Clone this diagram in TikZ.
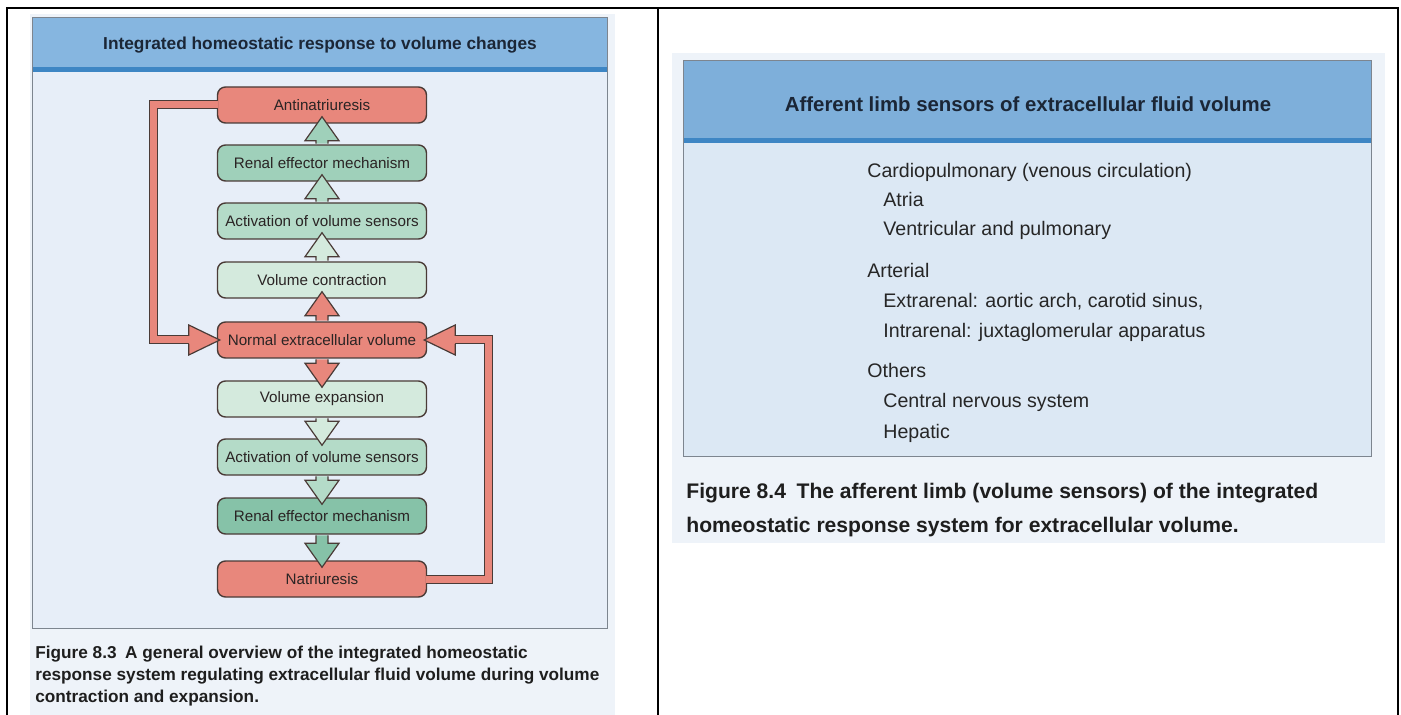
\documentclass[tikz,border=0pt]{standalone}
\usepackage{fontspec}
\setmainfont{Liberation Sans}
\usetikzlibrary{calc}
\definecolor{redf}{HTML}{E8877C}
\definecolor{grnA}{HTML}{D4EADD}
\definecolor{grnB}{HTML}{B4DBC8}
\definecolor{grnC}{HTML}{9FD0BA}
\definecolor{grnD}{HTML}{86C2A8}
\definecolor{boxline}{HTML}{4A3B37}
\definecolor{boxtext}{HTML}{2A2424}
\definecolor{navy}{HTML}{1B2636}
\definecolor{captxt}{HTML}{1E1E1E}
\definecolor{listtxt}{HTML}{262626}
\definecolor{scanbg}{HTML}{EEF3F9}
\definecolor{panelL}{HTML}{E7EEF8}
\definecolor{panelR}{HTML}{DCE8F4}
\definecolor{hdrL}{HTML}{86B6E0}
\definecolor{hdrR}{HTML}{7EAFDA}
\definecolor{hdrline}{HTML}{3E86C4}
\definecolor{frame}{HTML}{7D858F}
\tikzset{
  flowbox/.style={rectangle,rounded corners=4pt,draw=boxline,line width=0.7pt,minimum width=104.5pt,minimum height=18pt,inner sep=0pt,text=boxtext,font=\fontsize{7.6pt}{9pt}\selectfont},
  band/.style={draw=boxline,double=redf,double distance=3.5pt,line width=0.5pt},
  blk/.style={draw=boxline,line width=0.6pt,line join=miter},
  hdtext/.style={inner sep=0pt,anchor=base,text=navy},
  capt/.style={inner sep=0pt,anchor=base west,text=captxt},
  listtext/.style={inner sep=0pt,anchor=base west,text=listtxt,font=\fontsize{9.8pt}{11pt}\selectfont}
}
\begin{document}
\begin{tikzpicture}[x=0.5pt,y=-0.5pt]
  \useasboundingbox (0,0) rectangle (1401,715);
  % scanned pages
  \fill[scanbg] (30,14) rectangle (615,715);
  \fill[scanbg] (672,53) rectangle (1385,543);
  \fill[panelL] (32,18) rectangle (607,628);
  \fill[hdrL] (32,18) rectangle (607,69);
  \fill[hdrline] (32,67) rectangle (607,72);
  \draw[frame,line width=0.5pt] (32,18) rectangle (607,628);
  \fill[panelR] (683,61) rectangle (1371,457);
  \fill[hdrR] (683,61) rectangle (1371,139);
  \fill[hdrline] (683,138) rectangle (1371,143);
  \draw[frame,line width=0.5pt] (683,61) rectangle (1371,457);

  \node[hdtext,font=\fontsize{8.65pt}{10pt}\selectfont\bfseries] (lhead) at (320,50) {Integrated homeostatic response to volume changes};
  \node[hdtext,font=\fontsize{10.2pt}{12pt}\selectfont\bfseries] (rhead) at (1028,112) {Afferent limb sensors of extracellular fluid volume};

  \foreach \y/\name/\txt/\col in {105/anti/Antinatriuresis/redf, 163/rena/Renal effector mechanism/grnC,
        221/acta/Activation of volume sensors/grnB, 280/vcon/Volume contraction/grnA,
        340/nec/Normal extracellular volume/redf, 399/vexp/Volume expansion/grnA,
        457/actb/Activation of volume sensors/grnB, 516/renb/Renal effector mechanism/grnD,
        579/nat/Natriuresis/redf}
        \node[flowbox,fill=\col] (\name) at (322,\y) {\txt};

  % feedback loops
  \draw[band] ($(anti.west)+(1,0)$) -- ++(-64.5,0) |- ($(nec.west)+(-28,0)$);
  \draw[band] ($(nat.east)+(-1,0)$) -- ++(62.5,0) |- ($(nec.east)+(28,0)$);
  \filldraw[blk,fill=redf] ($(nec.west)+(-28,-4)$) -- ++(0,-11) -- ($(nec.west)+(3,0)$) -- ($(nec.west)+(-28,15)$) -- ++(0,-11);
  \filldraw[blk,fill=redf] ($(nec.east)+(28,-4)$) -- ++(0,-11) -- ($(nec.east)+(-3,0)$) -- ($(nec.east)+(28,15)$) -- ++(0,-11);

  \foreach \s/\t/\col/\d in {nec.north/vcon.south/redf/-1, vcon.north/acta.south/grnA/-1,
        acta.north/rena.south/grnB/-1, rena.north/anti.south/grnC/-1,
        nec.south/vexp.north/redf/1, vexp.south/actb.north/grnA/1,
        actb.south/renb.north/grnB/1, renb.south/nat.north/grnD/1}
    \filldraw[blk,fill=\col] ($(\s)+(-6,0.75*\d)$) -- ($(\t)+(-6,-17*\d)$) -- ($(\t)+(-17,-17*\d)$)
        -- ($(\t)+(0,7*\d)$) -- ($(\t)+(17,-17*\d)$) -- ($(\t)+(6,-17*\d)$) -- ($(\s)+(6,0.75*\d)$);

  \foreach \x/\y/\txt [count=\i] in {867/178/{Cardiopulmonary (venous circulation)}, 883/207/Atria,
        883/236/Ventricular and pulmonary, 867/278/Arterial,
        883/308/{Extrarenal: aortic arch, carotid sinus,}, 883/338/Intrarenal: juxtaglomerular apparatus,
        867/378/Others, 883/408/Central nervous system, 883/438/Hepatic}
        \node[listtext] (item\i) at (\x,\y) {\txt};

  \node[capt,font=\fontsize{8.6pt}{10pt}\selectfont\bfseries] (lcapa) at (35,658) {Figure 8.3\enspace A general overview of the integrated homeostatic};
  \node[capt,font=\fontsize{8.6pt}{10pt}\selectfont\bfseries] (lcapb) at (35,680) {response system regulating extracellular fluid volume during volume};
  \node[capt,font=\fontsize{8.6pt}{10pt}\selectfont\bfseries] (lcapc) at (35,702) {contraction and expansion.};
  \node[capt,font=\fontsize{10.55pt}{12pt}\selectfont\bfseries] (rcapa) at (686,498) {Figure 8.4\enspace The afferent limb (volume sensors) of the integrated};
  \node[capt,font=\fontsize{10.55pt}{12pt}\selectfont\bfseries] (rcapb) at (686,532) {homeostatic response system for extracellular volume.};

  % table rules
  \draw[line width=1.2pt] (7,715) -- (7,8) -- (1398,8) -- (1398,715);
  \draw[line width=1.2pt] (658,8) -- (658,715);
\end{tikzpicture}
\end{document}
